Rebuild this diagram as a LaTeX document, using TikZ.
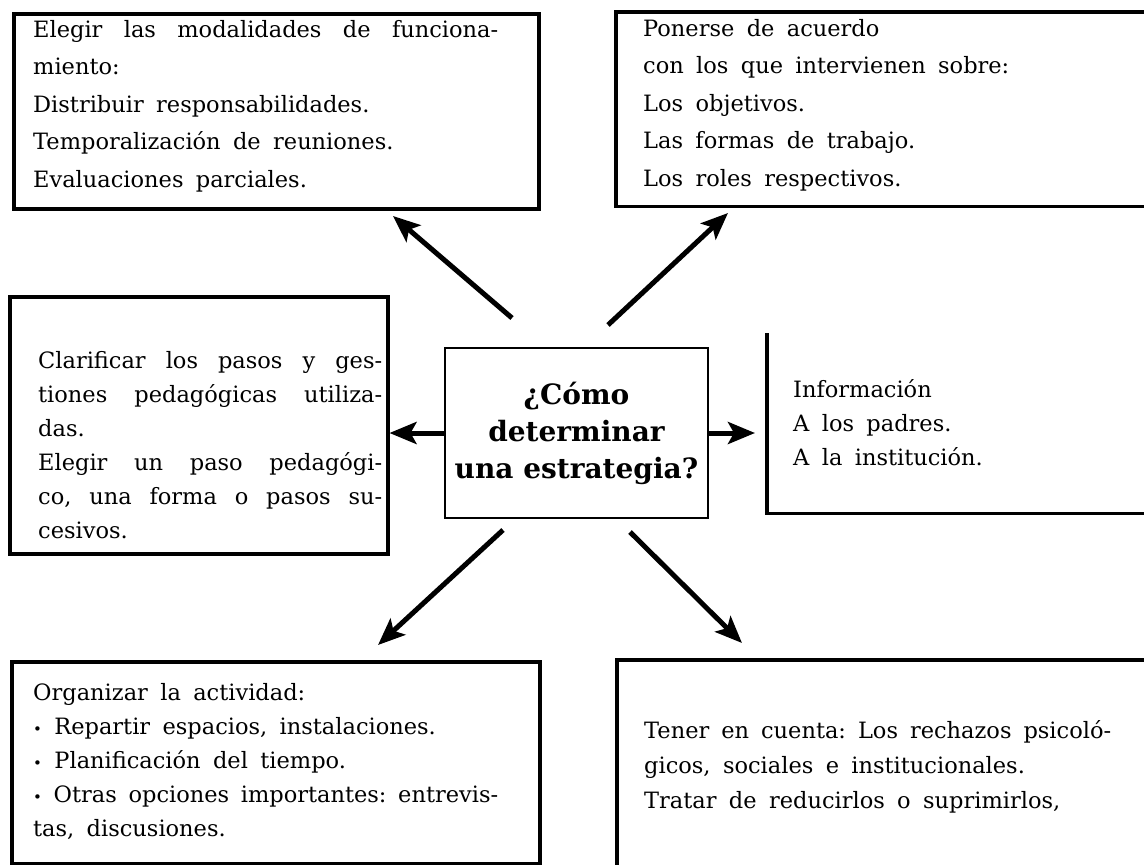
\documentclass[tikz,border=0pt]{standalone}
\usepackage{fontspec}
\setmainfont{DejaVu Serif}
\usetikzlibrary{arrows.meta}

\tolerance=10000
\hbadness=10000
\frenchspacing

\newcommand{\boxfont}[1]{\fontsize{22.5}{#1}\selectfont\spaceskip=0.55em plus 0.5em minus 0.15em}
\newcommand{\bul}{{\fontsize{15}{15}\selectfont\textbullet}\ }

\tikzset{frame/.style={draw, line width=3.5pt, inner sep=0pt, anchor=north west}}
\tikzset{txt/.style={inner sep=0pt, anchor=base west, align=justify, font=\boxfont{34}}}
\tikzset{question/.style={draw, line width=2.5pt, minimum width=263pt, minimum height=170pt, align=center, font=\fontsize{28}{37}\selectfont\bfseries}}
\tikzset{arrow/.style={line width=5pt, -{Stealth[length=27pt, width=22pt, inset=6pt]}}}

\begin{document}
\begin{tikzpicture}[x=1pt, y=-1pt]

	\useasboundingbox (0,0) rectangle (1144,865);

	\node[question] (q) at (576.5,433) {¿Cómo\\determinar\\una estrategia?};

	\node[frame, minimum width=525pt, minimum height=195pt] (tl) at (12,12) {};
	\node[frame, draw=none, minimum width=525pt, minimum height=191pt] (tr) at (616,12) {};
	\node[frame, minimum width=378pt, minimum height=257pt] (ml) at (8,295) {};
	\node[frame, draw=none, minimum width=400pt, minimum height=177pt] (info) at (767,333) {};
	\node[frame, minimum width=528pt, minimum height=202pt] (bl) at (10,660) {};
	\node[frame, minimum width=545pt, minimum height=230pt] (br) at (615,658) {};

	\draw[line width=3.5pt] (tr.north east) -- (tr.north west) -- (tr.south west) -- (tr.south east);
	\draw[line width=1.2pt] (tr.north east) -- (tr.south east);
	\draw[line width=3.5pt] (info.north west) -- (info.south west) -- (info.south east);

	\node[txt, text width=465pt, font=\boxfont{37.5}] (tl-text) at (33,37) {Elegir las modalidades de funciona-\linebreak miento:\\Distribuir responsabilidades.\\Temporalización de reuniones.\\Evaluaciones parciales.};
	\node[txt, text width=470pt, font=\boxfont{37.5}] (tr-text) at (643,36) {Ponerse de acuerdo\\con los que intervienen sobre:\\Los objetivos.\\Las formas de trabajo.\\Los roles respectivos.};
	\node[txt, text width=344pt] (ml-text) at (38,368) {Clarificar los pasos y ges-\linebreak tiones pedagógicas utiliza-\linebreak das.\\Elegir un paso pedagógi-\linebreak co, una forma o pasos su-\linebreak cesivos.};
	\node[txt, text width=330pt] (info-text) at (793,397) {Información\\A los padres.\\A la institución.};
	\node[txt, text width=465pt] (bl-text) at (33,700) {Organizar la actividad:\\\bul Repartir espacios, instalaciones.\\\bul Planificación del tiempo.\\\bul Otras opciones importantes: entrevis-\linebreak tas, discusiones.};
	\node[txt, text width=467pt, font=\boxfont{35}] (br-text) at (644,738) {Tener en cuenta: Los rechazos psicoló-\linebreak gicos, sociales e institucionales.\\Tratar de reducirlos o suprimirlos,};

	\coordinate (from-tl) at (512,318);
	\coordinate (to-tl) at (393,216);
	\coordinate (from-tr) at (608,325);
	\coordinate (to-tr) at (728,213);
	\coordinate (from-bl) at (503,530);
	\coordinate (to-bl) at (378,645);
	\coordinate (from-br) at (630,532);
	\coordinate (to-br) at (742,643);

	\draw[arrow] (from-tl) -- (to-tl);
	\draw[arrow] (from-tr) -- (to-tr);
	\draw[arrow] (q.west) -- (q.west -| ml.east);
	\draw[arrow] (q.east) -- ([xshift=-12pt]q.east -| info.west);
	\draw[arrow] (from-bl) -- (to-bl);
	\draw[arrow] (from-br) -- (to-br);
\end{tikzpicture}
\end{document}
